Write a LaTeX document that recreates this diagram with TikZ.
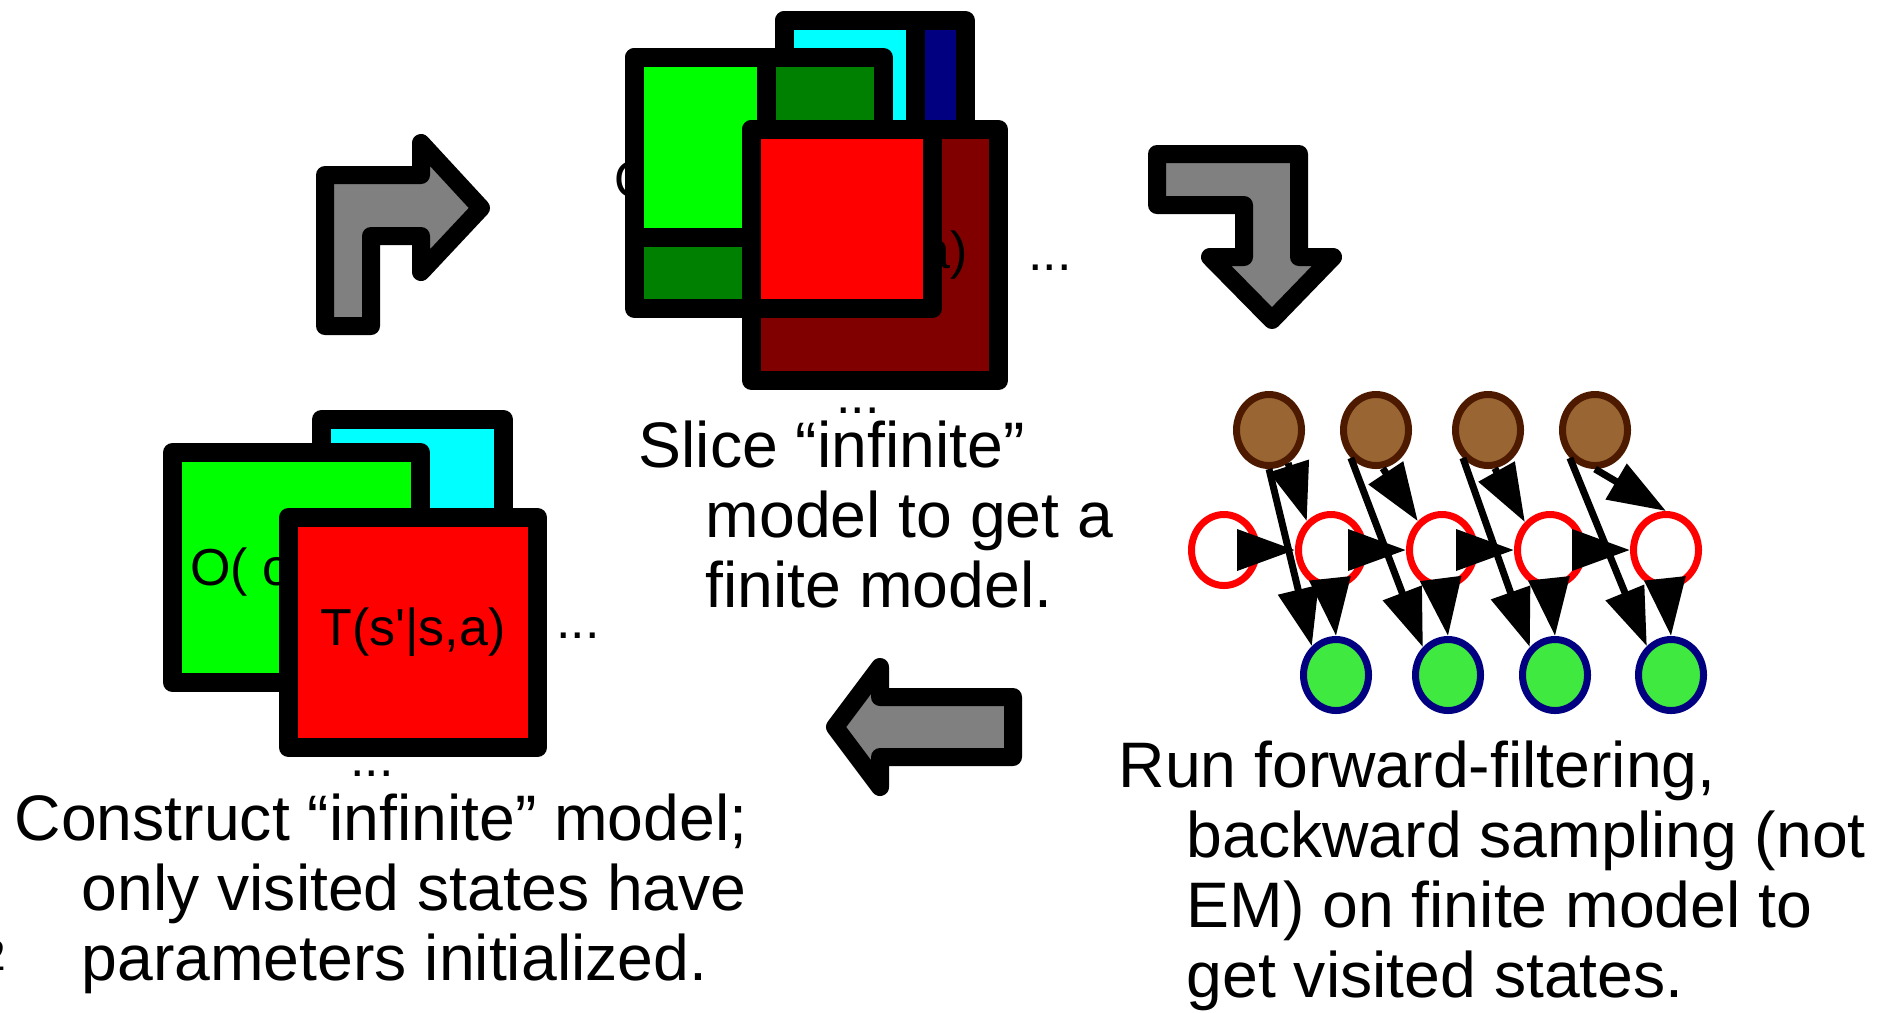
\documentclass[tikz,border=0pt]{standalone}
\usepackage{fontspec}
\setmainfont{Liberation Sans}
\newfontfamily\numfont{Liberation Serif}
\usetikzlibrary{arrows.meta,shapes.geometric}
\definecolor{brightgreen}{RGB}{0,255,0}
\definecolor{darkgreen}{RGB}{0,128,0}
\definecolor{brightcyan}{RGB}{0,255,255}
\definecolor{darknavy}{RGB}{0,0,128}
\definecolor{brightred}{RGB}{255,0,0}
\definecolor{darkred}{RGB}{128,0,0}
\definecolor{actfill}{RGB}{153,102,51}
\definecolor{actline}{RGB}{77,26,0}
\definecolor{obsfill}{RGB}{64,233,64}

\begin{document}
\begin{tikzpicture}[
  mat/.style={draw=black, line width=0.19cm, line join=round, inner sep=0pt, outer sep=0pt},
  bigarrow/.style={draw=black, fill=gray, line width=0.18cm, line join=round},
  desc/.style={font=\fontsize{18.3}{19.9}\selectfont, align=left, anchor=base west, inner sep=0pt},
  entry/.style={font=\fontsize{14.8}{16}\selectfont, inner sep=0pt},
  act/.style={ellipse, draw=actline, fill=actfill, line width=0.07cm, minimum width=0.65cm, minimum height=0.71cm, inner sep=0pt},
  hid/.style={ellipse, draw=red, fill=white, line width=0.07cm, minimum width=0.65cm, minimum height=0.71cm, inner sep=0pt},
  obs/.style={ellipse, draw=darknavy, fill=obsfill, line width=0.07cm, minimum width=0.65cm, minimum height=0.71cm, inner sep=0pt},
  dep/.style={line width=0.07cm, -{Triangle[length=0.58cm, width=0.40cm]}}
]
\useasboundingbox (0,0) rectangle (18.86,-10.12);

% sliced model (top)
\node[mat, fill=darknavy, minimum width=1.81cm, minimum height=1.81cm] (tnavy) at (8.75,-1.11) {};
\node[mat, fill=brightcyan, minimum width=1.31cm, minimum height=1.31cm] (tcyan) at (8.50,-0.86) {};
\node[entry, anchor=base west] (tobs) at (6.14,-1.97) {O( o|s\textquotesingle,a)};
\node[mat, fill=darkgreen, minimum width=2.49cm, minimum height=2.51cm] (tgreen) at (7.59,-1.83) {};
\node[mat, fill=brightgreen, minimum width=1.32cm, minimum height=1.80cm] (tgreenv) at (7.005,-1.475) {};
\node[mat, fill=darkred, minimum width=2.47cm, minimum height=2.51cm] (tred) at (8.75,-2.55) {};
\node[entry] (ttrans) at (tred) {T(s\textquotesingle|s,a)};
\node[mat, fill=brightred, minimum width=1.81cm, minimum height=1.79cm] (tredv) at (8.42,-2.19) {};
\node[entry, anchor=base] (tdotsr) at (10.50,-2.70) {...};
\node[entry, anchor=base] (tdotsb) at (8.58,-4.13) {...};

% infinite model (bottom left)
\node[mat, fill=brightcyan, minimum width=1.82cm, minimum height=1.82cm] (bcyan) at (4.125,-5.105) {};
\node[mat, fill=brightgreen, minimum width=2.48cm, minimum height=2.30cm] (bgreen) at (2.965,-5.675) {};
\node[entry, anchor=base west] (bobs) at (1.895,-5.85) {O( o|s\textquotesingle,a)};
\node[mat, fill=brightred, minimum width=2.49cm, minimum height=2.30cm] (bred) at (4.13,-6.325) {};
\node[entry] (btrans) at (bred) {T(s\textquotesingle|s,a)};
\node[entry, anchor=base] (bdotsr) at (5.78,-6.38) {...};
\node[entry, anchor=base] (bdotsb) at (3.72,-7.76) {...};

% cycle arrows
\draw[bigarrow] (3.25,-3.26) -- (3.25,-1.75) -- (4.21,-1.75) -- (4.21,-1.43) -- (4.81,-2.08)
  -- (4.21,-2.72) -- (4.21,-2.36) -- (3.71,-2.36) -- (3.71,-3.26) -- cycle;
\draw[bigarrow] (11.57,-1.54) -- (12.99,-1.54) -- (12.99,-2.57) -- (13.33,-2.57) -- (12.72,-3.20)
  -- (12.10,-2.57) -- (12.44,-2.57) -- (12.44,-2.05) -- (11.57,-2.05) -- cycle;
\draw[bigarrow] (10.13,-6.97) -- (8.80,-6.97) -- (8.80,-6.67) -- (8.35,-7.27) -- (8.80,-7.87)
  -- (8.80,-7.57) -- (10.13,-7.57) -- cycle;

% finite model as a dbn
\node[act] (a1) at (12.69,-4.30) {};
\node[act] (a2) at (13.76,-4.30) {};
\node[act] (a3) at (14.88,-4.30) {};
\node[act] (a4) at (15.95,-4.30) {};
\node[hid] (s0) at (12.24,-5.50) {};
\node[hid] (s1) at (13.31,-5.50) {};
\node[hid] (s2) at (14.42,-5.50) {};
\node[hid] (s3) at (15.50,-5.50) {};
\node[hid] (s4) at (16.66,-5.50) {};
\node[obs] (o1) at (13.36,-6.75) {};
\node[obs] (o2) at (14.48,-6.75) {};
\node[obs] (o3) at (15.55,-6.75) {};
\node[obs] (o4) at (16.71,-6.75) {};
\draw[dep] (s0) -- (s1);
\draw[dep] (s1) -- (s2);
\draw[dep] (s2) -- (s3);
\draw[dep] (s3) -- (s4);
\draw[dep] (a1.300) -- (s1.130);
\draw[dep] (a2.280) -- (s2.130);
\draw[dep] (a3.280) -- (s3.132);
\draw[dep] (a4.south) -- (s4.north);
\draw[dep] (a1.south) -- (o1.130);
\draw[dep] (a2.228) -- (o2.132);
\draw[dep] (a3.228) -- (o3.132);
\draw[dep] (a4.228) -- (o4.130);
\draw[dep] (s1.south) -- (o1.north);
\draw[dep] (s2.south) -- (o2.north);
\draw[dep] (s3.south) -- (o3.north);
\draw[dep] (s4.south) -- (o4.north);

% captions (anchored on their last line)
\node[desc] (slicetxt) at (6.38,-6.07) {Slice “infinite”\\\hspace*{0.67cm}model to get a\\\hspace*{0.67cm}finite model.};
\node[desc] (buildtxt) at (0.14,-9.80) {Construct “infinite” model;\\\hspace*{0.67cm}only visited states have\\\hspace*{0.67cm}parameters initialized.};
\node[desc] (runtxt) at (11.18,-9.97) {Run forward-filtering,\\\hspace*{0.68cm}backward sampling (not\\\hspace*{0.68cm}EM) on finite model to\\\hspace*{0.68cm}get visited states.};
\node[anchor=base east, inner sep=0pt, font=\numfont\fontsize{13}{14}\selectfont] (pagenum) at (0.07,-9.70) {2};
\end{tikzpicture}
\end{document}
